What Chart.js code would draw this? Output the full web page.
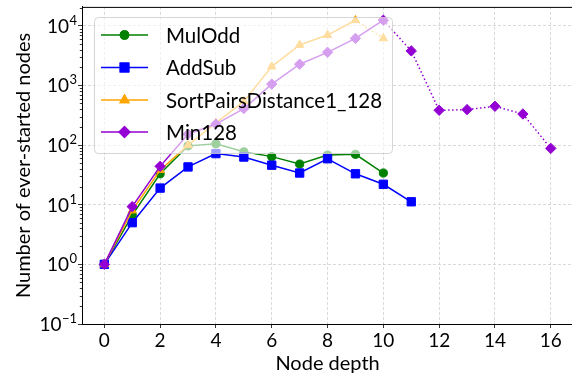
<!DOCTYPE html>
<html><head><meta charset="utf-8">
<script src="https://cdn.jsdelivr.net/npm/chart.js@4"></script>
<style>html,body{margin:0;padding:0;overflow:hidden;background:#fff;width:572px;height:377px}canvas{display:block}</style>
</head><body>
<canvas id="c" width="580" height="377"></canvas>
<script>
const depths = [0,1,2,3,4,5,6,7,8,9,10,11,12,13,14,15,16];
const mulOdd = [1,6.7,33,97,105,77,64,48,68,70,34];
const addSub = [1,5,19,43,72,63,46,34,59,33,22,11.2];
const sortPairs = [1,8,38,100,235,540,2070,4760,6990,12400,6150];
const min128 = [1,9.3,44,152,225,409,1052,2270,3590,6150,12400,3790,383,393,447,332,88];
const seriesNames = ['MulOdd','AddSub','SortPairsDistance1_128','Min128'];
const xTicks = [0,2,4,6,8,10,12,14,16];
const yTickExps = [-1,0,1,2,3,4];
const xTitle = 'Node depth';
const yTitle = 'Number of ever-started nodes';

const FONT = 'Lato';
const colors = ['#008000','#0000ff','#ffa500','#9400d3'];
const styles = ['circle','rect','triangle','rectRot'];
const radii = [4.1,5.9,4.8,5.2];
const dotted = [1.5,2.5];
const mk = arr => arr.map((v,i)=>({x:depths[i], y:v}));
const allData = [mulOdd, addSub, sortPairs, min128];
const dashFrom = [null, null, 9, 10];

const datasets = allData.map((arr,i)=>({
  label: seriesNames[i], data: mk(arr),
  borderColor: colors[i], backgroundColor: colors[i],
  pointBackgroundColor: colors[i], pointBorderColor: colors[i],
  pointStyle: styles[i], pointRadius: radii[i], pointBorderWidth: 1,
  borderWidth: 1.5, tension: 0, fill: false, order: 3 - i,
  segment: { borderDash: ctx => (dashFrom[i] !== null && ctx.p0.parsed.x >= dashFrom[i]) ? dotted : undefined }
}));

const extras = {
  id: 'extras',
  afterDatasetsDraw(chart) {
    const ctx = chart.ctx;
    const bx = 94, by = 17, bw = 298, bh = 136, r = 4;
    ctx.save();
    ctx.beginPath();
    ctx.roundRect(bx+0.5, by+0.5, bw, bh, r);
    ctx.fillStyle = 'rgba(255,255,255,0.62)';
    ctx.fill();
    ctx.strokeStyle = 'rgba(204,204,204,0.8)';
    ctx.lineWidth = 1;
    ctx.stroke();
    const rows = [35, 67.5, 100, 132];
    seriesNames.forEach((n,i)=>{
      const y = rows[i];
      ctx.beginPath();
      ctx.moveTo(101, y); ctx.lineTo(148, y);
      ctx.strokeStyle = colors[i]; ctx.lineWidth = 1.5; ctx.setLineDash([]);
      ctx.stroke();
      ctx.fillStyle = colors[i];
      Chart.helpers.drawPoint(ctx, {pointStyle: styles[i], radius: radii[i], borderWidth: 1}, 124.5, y);
      ctx.fill(); ctx.stroke();
      ctx.fillStyle = '#000';
      ctx.font = '20.5px ' + FONT;
      ctx.textBaseline = 'middle'; ctx.textAlign = 'left';
      ctx.fillText(n, 166, y + 1);
    });
    ctx.restore();
  },
  afterDraw(chart) {
    const ctx = chart.ctx, a = chart.chartArea, ys = chart.scales.y;
    ctx.save();
    ctx.strokeStyle = '#000'; ctx.lineWidth = 1;
    ctx.beginPath();
    ctx.moveTo(a.left, a.top + 0.5); ctx.lineTo(a.right, a.top + 0.5);
    ctx.moveTo(a.right - 0.5, a.top); ctx.lineTo(a.right - 0.5, a.bottom);
    ctx.stroke();
    ctx.lineWidth = 0.8;
    ctx.beginPath();
    for (let d = -1; d <= 4; d++) {
      for (let k = 2; k <= 9; k++) {
        const v = k * Math.pow(10, d);
        if (v > ys.max) continue;
        const y = Math.round(ys.getPixelForValue(v)) + 0.5;
        ctx.moveTo(a.left - 2.2, y); ctx.lineTo(a.left, y);
      }
    }
    ctx.stroke();
    ctx.fillStyle = '#000';
    ctx.textBaseline = 'alphabetic';
    const R = 77;
    yTickExps.forEach(e=>{
      const y = ys.getPixelForValue(Math.pow(10, e));
      const exp = e < 0 ? '\u2212' + Math.abs(e) : String(e);
      ctx.font = '13px ' + FONT;
      const ew = ctx.measureText(exp).width;
      ctx.textAlign = 'left';
      ctx.fillText(exp, R - ew, y - 1);
      ctx.font = '19px ' + FONT;
      ctx.textAlign = 'right';
      ctx.fillText('10', R - ew - 0.5, y + 7);
    });
    ctx.restore();
  }
};

new Chart(document.getElementById('c'), {
  type: 'line',
  data: { datasets },
  options: {
    responsive: false, animation: false,
    layout: { padding: { left: 0, top: 6, right: 2.4, bottom: 0 } },
    plugins: { legend: { display: false }, tooltip: { enabled: false } },
    scales: {
      x: {
        type: 'linear', min: -0.8, max: 16.8,
        afterBuildTicks: s => { s.ticks = xTicks.map(v=>({value:v})); },
        afterFit: s => { s.height = 53; },
        ticks: { color: '#000', font: { family: FONT, size: 19 }, padding: 1, maxRotation: 0, autoSkip: false },
        grid: { color: '#cfcfcf', lineWidth: 0.8, tickLength: 4, tickColor: '#000', tickWidth: 0.8 },
        border: { color: '#000', width: 1, dash: [3, 2] },
        title: { display: true, text: xTitle, color: '#000', font: { family: FONT, size: 20 }, padding: { top: 0, bottom: 1 } }
      },
      y: {
        type: 'logarithmic', min: 0.1, max: 20735,
        afterBuildTicks: s => { s.ticks = yTickExps.map(e=>({value: Math.pow(10,e), major: true})); },
        afterFit: s => { s.width = 82; },
        ticks: { display: false },
        grid: { color: '#cfcfcf', lineWidth: 0.8, tickLength: 4, tickColor: '#000', tickWidth: 0.8 },
        border: { color: '#000', width: 1, dash: [3, 2] },
        title: { display: true, text: yTitle, color: '#000', font: { family: FONT, size: 20 }, padding: { top: 12, bottom: 0 } }
      }
    }
  },
  plugins: [extras]
});
</script>
</body></html>
